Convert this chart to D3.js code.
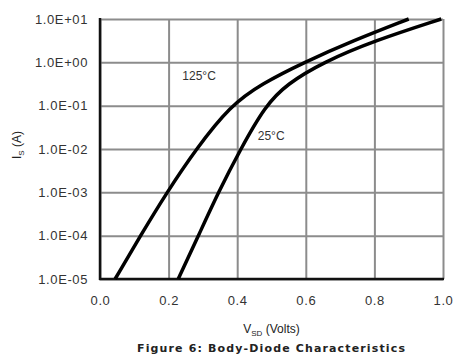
<!DOCTYPE html>
<html>
<head>
<meta charset="utf-8">
<script src="https://cdn.jsdelivr.net/npm/d3@7/dist/d3.min.js"></script>
<style>
  body { margin: 0; background: #fff; }
  svg { display: block; font-family: "Liberation Sans", Arial, sans-serif; }
  .tick-label { font-size: 13px; fill: #333; letter-spacing: 0.6px; }
  .axis-label { font-size: 12px; fill: #222; }
  .curve-label { font-size: 12px; fill: #333; }
</style>
</head>
<body>
<svg width="455" height="358"></svg>
<script>
  // current levels read at each curve point (A)
  const currents = [1e-5, 1e-4, 1e-3, 1e-2, 1e-1, 0.316, 1, 3.16, 10];
  // forward voltage for each current level (V)
  const v125 = [0.044, 0.118, 0.195, 0.28, 0.38, 0.47, 0.595, 0.738, 0.90];
  const v25 = [0.228, 0.287, 0.345, 0.41, 0.482, 0.545, 0.65, 0.8, 0.995];
  const seriesNames = ['125°C', '25°C'];

  const yTicks = [1e-5, 1e-4, 1e-3, 1e-2, 1e-1, 1, 10];
  const yTickLabels = ['1.0E-05', '1.0E-04', '1.0E-03', '1.0E-02', '1.0E-01', '1.0E+00', '1.0E+01'];
  const xTicks = [0, 0.2, 0.4, 0.6, 0.8, 1.0];

  const svg = d3.select('svg');
  const margin = {top: 19, right: 12, bottom: 79, left: 100};
  const width = +svg.attr('width');
  const height = +svg.attr('height');
  const innerWidth = width - margin.left - margin.right;
  const innerHeight = height - margin.top - margin.bottom;

  const xScale = d3.scaleLinear().domain([0, 1]).range([0, innerWidth]);
  const yScale = d3.scaleLog().domain([1e-5, 10]).range([innerHeight, 0]);

  const g = svg.append('g')
    .attr('transform', `translate(${margin.left}, ${margin.top})`);

  // grid
  const xAxisG = g.append('g')
    .attr('transform', `translate(0, ${innerHeight})`)
    .call(d3.axisBottom(xScale).tickValues(xTicks).tickSize(-innerHeight)
      .tickPadding(17).tickFormat(d3.format('.1f')));
  xAxisG.select('.domain').remove();
  xAxisG.selectAll('line').attr('stroke', '#8c8c8c').attr('stroke-width', 2);
  xAxisG.selectAll('text').attr('class', 'tick-label');
  xAxisG.attr('font-size', null).attr('font-family', null);

  const yAxisG = g.append('g')
    .call(d3.axisLeft(yScale).tickValues(yTicks).tickSize(-innerWidth)
      .tickPadding(12).tickFormat((d, i) => yTickLabels[i]));
  yAxisG.select('.domain').remove();
  yAxisG.selectAll('line').attr('stroke', '#8c8c8c').attr('stroke-width', 2);
  yAxisG.selectAll('text').attr('class', 'tick-label');
  yAxisG.attr('font-size', null).attr('font-family', null);

  // left and bottom axis lines
  g.append('line').attr('x1', 0).attr('x2', 0).attr('y1', -1).attr('y2', innerHeight + 1)
    .attr('stroke', '#111').attr('stroke-width', 2.5);
  g.append('line').attr('x1', -1).attr('x2', innerWidth + 1).attr('y1', innerHeight).attr('y2', innerHeight)
    .attr('stroke', '#111').attr('stroke-width', 2.5);

  const line = d3.line()
    .x(d => xScale(d[0]))
    .y(d => yScale(d[1]))
    .curve(d3.curveBasis);

  [v125, v25].forEach(vs => {
    g.append('path')
      .datum(vs.map((v, i) => [v, currents[i]]))
      .attr('fill', 'none')
      .attr('stroke', '#000')
      .attr('stroke-width', 3.5)
      .attr('d', line);
  });

  g.append('text').attr('class', 'curve-label')
    .attr('x', xScale(0.24)).attr('y', yScale(0.5)).attr('dy', '0.35em')
    .text(seriesNames[0]);
  g.append('text').attr('class', 'curve-label')
    .attr('x', xScale(0.46)).attr('y', yScale(0.02)).attr('dy', '0.35em')
    .text(seriesNames[1]);

  // axis titles
  const yTitle = svg.append('text').attr('class', 'axis-label')
    .attr('transform', 'rotate(-90)')
    .attr('x', -145).attr('y', 21)
    .attr('text-anchor', 'middle');
  yTitle.append('tspan').text('I');
  yTitle.append('tspan').attr('font-size', '8px').attr('dy', 3).text('S');
  yTitle.append('tspan').attr('dy', -3).text(' (A)');

  const xTitle = svg.append('text').attr('class', 'axis-label')
    .attr('x', margin.left + innerWidth / 2).attr('y', 333)
    .attr('text-anchor', 'middle');
  xTitle.append('tspan').text('V');
  xTitle.append('tspan').attr('font-size', '8px').attr('dy', 3).text('SD');
  xTitle.append('tspan').attr('dy', -3).text(' (Volts)');

  svg.append('text')
    .attr('x', 137).attr('y', 352)
    .attr('font-family', '"DejaVu Sans", sans-serif')
    .attr('font-size', '11px').attr('font-weight', 'bold').attr('fill', '#222')
    .attr('textLength', 268).attr('lengthAdjust', 'spacing')
    .text('Figure 6: Body-Diode Characteristics');
</script>
</body>
</html>
